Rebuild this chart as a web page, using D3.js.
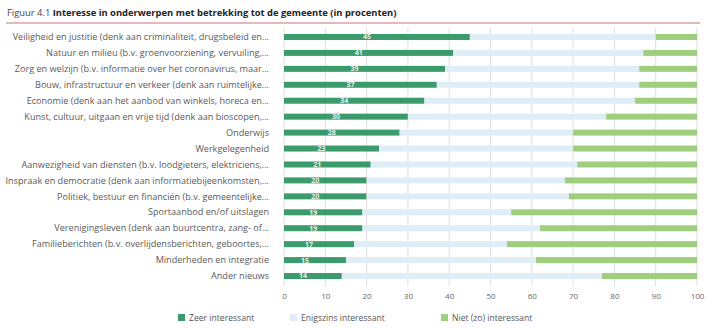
<!DOCTYPE html>
<html>
<head>
<meta charset="utf-8">
<script src="https://cdn.jsdelivr.net/npm/d3@7"></script>
<style>
    body { margin: 0; background: #fff; }
    svg { display: block; font-family: "Open Sans", sans-serif; }
</style>
</head>
<body>
<div id="chart"></div>
<script>
// Onderwerpen en percentages per antwoordcategorie
const topics = [
    'Veiligheid en justitie (denk aan criminaliteit, drugsbeleid en...',
    'Natuur en milieu (b.v. groenvoorziening, vervuiling,...',
    'Zorg en welzijn (b.v. informatie over het coronavirus, maar...',
    'Bouw, infrastructuur en verkeer (denk aan ruimtelijke...',
    'Economie (denk aan het aanbod van winkels, horeca en...',
    'Kunst, cultuur, uitgaan en vrije tijd (denk aan bioscopen,...',
    'Onderwijs',
    'Werkgelegenheid',
    'Aanwezigheid van diensten (b.v. loodgieters, elektriciens,...',
    'Inspraak en democratie (denk aan informatiebijeenkomsten,...',
    'Politiek, bestuur en financiën (b.v. gemeentelijke...',
    'Sportaanbod en/of uitslagen',
    'Verenigingsleven (denk aan buurtcentra, zang- of...',
    'Familieberichten (b.v. overlijdensberichten, geboortes,...',
    'Minderheden en integratie',
    'Ander nieuws'
];
const zeer      = [45, 41, 39, 37, 34, 30, 28, 23, 21, 20, 20, 19, 19, 17, 15, 14];
const enigszins = [45, 46, 47, 49, 51, 48, 42, 47, 50, 48, 49, 36, 43, 37, 46, 63];
const niet      = [10, 13, 14, 14, 15, 22, 30, 30, 29, 32, 31, 45, 38, 46, 39, 23];
const series = ['Zeer interessant', 'Enigszins interessant', 'Niet (zo) interessant'];
const ticks = [0, 10, 20, 30, 40, 50, 60, 70, 80, 90, 100];

const colors = ['#3b9b6d', '#deedf6', '#9dcf7f'];

const width = 721, height = 328;

const svg = d3.select('#chart')
    .append('svg')
    .attr('width', width)
    .attr('height', height);

// titel
const title = svg.append('text')
    .attr('x', 7)
    .attr('y', 16)
    .style('font-size', '9.4px')
    .style('fill', '#222');
title.append('tspan').text('Figuur 4.1 ').style('fill', '#444');
title.append('tspan').text('Interesse in onderwerpen met betrekking tot de gemeente (in procenten)')
    .style('font-weight', 'bold');

svg.append('line')
    .attr('x1', 6).attr('x2', 700)
    .attr('y1', 23).attr('y2', 23)
    .attr('stroke', '#d9a3a3')
    .attr('stroke-width', 1.6);

const data = topics.map((t, i) => ({ topic: t, values: [zeer[i], enigszins[i], niet[i]] }));

const xScale = d3.scaleLinear()
    .domain([0, 100])
    .range([284, 697]);

const yScale = d3.scaleBand()
    .domain(topics)
    .range([29, 284]);

const barH = 6;

// verticale rasterlijnen
svg.append('g')
    .selectAll('line')
    .data(ticks)
    .enter()
    .append('line')
    .attr('x1', d => xScale(d))
    .attr('x2', d => xScale(d))
    .attr('y1', 28)
    .attr('y2', 286)
    .attr('stroke', '#dedede')
    .attr('stroke-width', 1);

// gestapelde balken
const rows = svg.append('g')
    .selectAll('g')
    .data(data)
    .enter()
    .append('g')
    .attr('transform', d => 'translate(0,' + (yScale(d.topic) + yScale.bandwidth() / 2) + ')');

rows.selectAll('rect')
    .data(d => {
        let acc = 0;
        return d.values.map((v, k) => {
            const start = acc;
            acc += v;
            return { start: start, end: acc, k: k };
        });
    })
    .enter()
    .append('rect')
    .attr('x', d => xScale(d.start))
    .attr('width', d => xScale(d.end) - xScale(d.start))
    .attr('y', -barH / 2)
    .attr('height', barH)
    .attr('fill', d => colors[d.k]);

// waardelabels in de donkere balk
rows.append('text')
    .attr('x', d => xScale(d.values[0] / 2) - 10)
    .attr('y', 0)
    .attr('dy', '0.35em')
    .attr('text-anchor', 'middle')
    .style('font-size', '7px')
    .style('font-weight', 'bold')
    .style('fill', '#e4f1ea')
    .text(d => d.values[0]);

// categorielabels
svg.append('g')
    .selectAll('text')
    .data(topics)
    .enter()
    .append('text')
    .attr('x', 269)
    .attr('y', d => yScale(d) + yScale.bandwidth() / 2)
    .attr('dy', '0.35em')
    .attr('text-anchor', 'end')
    .style('font-size', '9.1px')
    .style('fill', '#5a5a5a')
    .text(d => d);

// x-as
const xAxis = svg.append('g')
    .attr('transform', 'translate(0,290)')
    .call(d3.axisBottom(xScale).tickValues(ticks).tickSize(0).tickPadding(3));
xAxis.select('.domain').remove();
xAxis.selectAll('text')
    .style('font-family', '"Open Sans", sans-serif')
    .style('font-size', '8px')
    .style('fill', '#666');

// legenda
const legendX = [178, 290, 441];
const legend = svg.append('g')
    .selectAll('g')
    .data(series)
    .enter()
    .append('g')
    .attr('transform', (d, i) => 'translate(' + legendX[i] + ',318)');

legend.append('rect')
    .attr('x', 0)
    .attr('y', -4)
    .attr('width', 7)
    .attr('height', 7)
    .attr('fill', (d, i) => colors[i]);

legend.append('text')
    .attr('x', 11)
    .attr('y', 0)
    .attr('dy', '0.32em')
    .style('font-size', '8.6px')
    .style('fill', '#555')
    .text(d => d);
</script>
</body>
</html>
